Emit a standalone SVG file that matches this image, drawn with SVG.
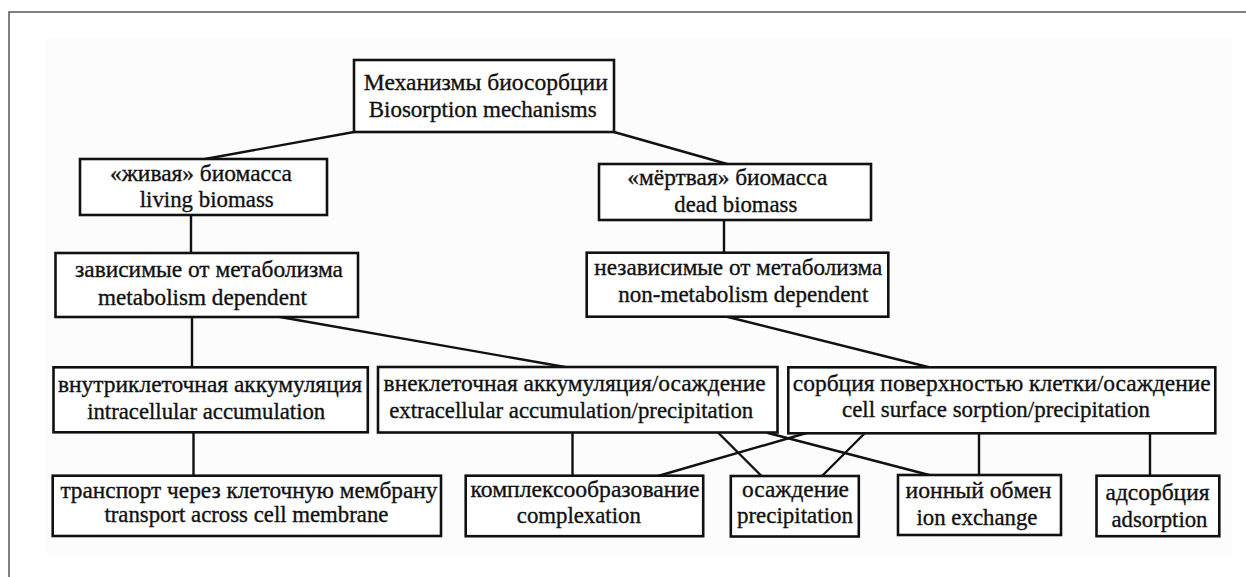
<svg xmlns="http://www.w3.org/2000/svg" width="1246" height="577" viewBox="0 0 1246 577">
<style>
.box{fill:#fff;stroke:#111;stroke-width:2.6}
.c{stroke:#111;stroke-width:2.4;fill:none;stroke-linecap:round}
text{font-family:'Liberation Serif','Times New Roman',serif;font-size:23.5px;fill:#111;stroke:#111;stroke-width:0.35;text-anchor:middle}
.frame{stroke:#555;stroke-width:1.5;fill:none}
</style>
<rect width="1246" height="577" fill="#fff"/>
<rect x="45" y="38" width="1188" height="517" fill="#fcfcfc"/>
<path class="frame" d="M9 577 V12 H1246"/>
<g id="connectors">
<line class="c" x1="354" y1="132" x2="205" y2="159"/>
<line class="c" x1="614" y1="132" x2="727" y2="164"/>
<line class="c" x1="191" y1="215" x2="191" y2="253"/>
<line class="c" x1="724" y1="220" x2="724" y2="253"/>
<line class="c" x1="192" y1="317" x2="192" y2="367"/>
<line class="c" x1="280" y1="317" x2="565" y2="367"/>
<line class="c" x1="728" y1="317" x2="928" y2="367"/>
<line class="c" x1="193.5" y1="432" x2="193.5" y2="476"/>
<line class="c" x1="572.5" y1="432" x2="572.5" y2="476"/>
<line class="c" x1="718.5" y1="433" x2="761.5" y2="476"/>
<line class="c" x1="768" y1="433" x2="933" y2="476"/>
<line class="c" x1="806.5" y1="433" x2="658" y2="476"/>
<line class="c" x1="865" y1="433" x2="822" y2="476"/>
<line class="c" x1="979" y1="433" x2="979" y2="475"/>
<line class="c" x1="1150" y1="433" x2="1150" y2="476"/>
</g>
<g id="root">
<rect class="box" x="354" y="60" width="260" height="72"/>
<text x="485.8" y="90" textLength="244" lengthAdjust="spacingAndGlyphs">Механизмы биосорбции</text>
<text x="482.7" y="117" textLength="228" lengthAdjust="spacingAndGlyphs">Biosorption mechanisms</text>
</g>
<g id="living">
<rect class="box" x="80" y="159" width="247" height="56"/>
<text x="201" y="181" textLength="182" lengthAdjust="spacingAndGlyphs">«живая» биомасса</text>
<text x="206.7" y="207" textLength="134" lengthAdjust="spacingAndGlyphs">living biomass</text>
</g>
<g id="dead">
<rect class="box" x="599" y="164" width="272" height="56"/>
<text x="727.3" y="185" textLength="200" lengthAdjust="spacingAndGlyphs">«мёртвая» биомасса</text>
<text x="735.8" y="212" textLength="123" lengthAdjust="spacingAndGlyphs">dead biomass</text>
</g>
<g id="metab">
<rect class="box" x="55.5" y="253" width="302.5" height="64"/>
<text x="209" y="277" textLength="268" lengthAdjust="spacingAndGlyphs">зависимые от метаболизма</text>
<text x="202.5" y="305" textLength="209" lengthAdjust="spacingAndGlyphs">metabolism dependent</text>
</g>
<g id="nonmetab">
<rect class="box" x="586.7" y="252.7" width="301.6" height="64"/>
<text x="738.3" y="275" textLength="288" lengthAdjust="spacingAndGlyphs">независимые от метаболизма</text>
<text x="743.3" y="302" textLength="250" lengthAdjust="spacingAndGlyphs">non-metabolism dependent</text>
</g>
<g id="intracellular">
<rect class="box" x="53.5" y="367.3" width="314.3" height="65"/>
<text x="210" y="391.7" textLength="304" lengthAdjust="spacingAndGlyphs">внутриклеточная аккумуляция</text>
<text x="206.2" y="419" textLength="238" lengthAdjust="spacingAndGlyphs">intracellular accumulation</text>
</g>
<g id="extracellular">
<rect class="box" x="378" y="367" width="399.5" height="65.5"/>
<text x="574.6" y="391" textLength="382" lengthAdjust="spacingAndGlyphs">внеклеточная аккумуляция/осаждение</text>
<text x="571.2" y="418.3" textLength="364" lengthAdjust="spacingAndGlyphs">extracellular accumulation/precipitation</text>
</g>
<g id="cellsurface">
<rect class="box" x="788.3" y="367.3" width="427" height="66"/>
<text x="1001.8" y="390.7" textLength="418" lengthAdjust="spacingAndGlyphs">сорбция поверхностью клетки/осаждение</text>
<text x="996" y="417.3" textLength="308" lengthAdjust="spacingAndGlyphs">cell surface sorption/precipitation</text>
</g>
<g id="transport">
<rect class="box" x="52.7" y="475.7" width="388.3" height="60.3"/>
<text x="248.9" y="498" textLength="377" lengthAdjust="spacingAndGlyphs">транспорт через клеточную мембрану</text>
<text x="246.4" y="522" textLength="284" lengthAdjust="spacingAndGlyphs">transport across cell membrane</text>
</g>
<g id="complexation">
<rect class="box" x="465.7" y="475.7" width="237.5" height="60.5"/>
<text x="585" y="497" textLength="229" lengthAdjust="spacingAndGlyphs">комплексообразование</text>
<text x="578.8" y="523" textLength="124" lengthAdjust="spacingAndGlyphs">complexation</text>
</g>
<g id="precipitation">
<rect class="box" x="730.8" y="476" width="128" height="60.5"/>
<text x="795.5" y="497" textLength="107" lengthAdjust="spacingAndGlyphs">осаждение</text>
<text x="795" y="523" textLength="116" lengthAdjust="spacingAndGlyphs">precipitation</text>
</g>
<g id="ionexchange">
<rect class="box" x="898" y="475" width="163" height="60"/>
<text x="978.5" y="498" textLength="146" lengthAdjust="spacingAndGlyphs">ионный обмен</text>
<text x="977" y="525" textLength="121" lengthAdjust="spacingAndGlyphs">ion exchange</text>
</g>
<g id="adsorption">
<rect class="box" x="1096.5" y="475.7" width="122.8" height="60.5"/>
<text x="1157.5" y="500" textLength="104" lengthAdjust="spacingAndGlyphs">адсорбция</text>
<text x="1159.5" y="526.5" textLength="96" lengthAdjust="spacingAndGlyphs">adsorption</text>
</g>
</svg>
